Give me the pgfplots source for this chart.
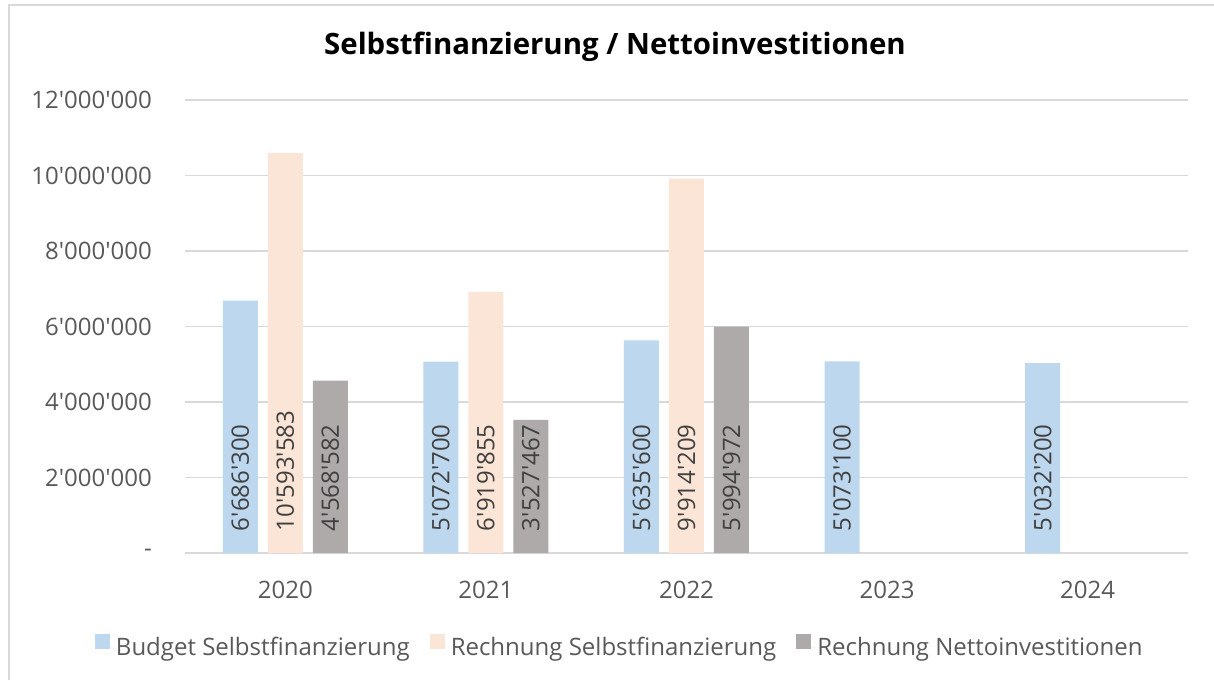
\documentclass[border=0pt]{standalone}
\usepackage{pgfplots}
\pgfplotsset{compat=1.18}
\usepackage{fontspec}
\setmainfont{Open Sans}[Ligatures=TeXOff]
\definecolor{cblue}{HTML}{BDD7EE}
\definecolor{cpeach}{HTML}{FBE5D6}
\definecolor{cgray}{HTML}{AEAAAA}
\definecolor{cgrid}{HTML}{D9D9D9}
\definecolor{ctext}{HTML}{595959}
\definecolor{clabel}{HTML}{404040}
\pgfplotsset{ybar legend/.style={legend image code/.code={\path (0pt,0pt) -- (20pt,0pt);\fill[##1] (0pt,-2pt) rectangle (15pt,13pt);}}}
\newcommand{\tfont}{\fontsize{24}{28}\selectfont}
\begin{document}
\begin{tikzpicture}[x=1pt,y=1pt]
\path[use as bounding box] (0,0) rectangle (1214,680);
\fill[white] (0,0) rectangle (1214,680);
\draw[cgrid, line width=1.5pt] (9,0) -- (9,675) -- (1214,675);
\node[font=\fontsize{29.4}{34}\selectfont\bfseries, anchor=center] at (615,633) {Selbstfinanzierung / Nettoinvestitionen};
\begin{axis}[
  at={(185pt,127pt)}, anchor=south west,
  scale only axis, width=1003pt, height=453pt,
  xmin=-0.5, xmax=4.5, ymin=0, ymax=12000000,
  ybar=10pt, bar width=35pt,
  axis line style={draw=none},
  major tick length=0pt, tick style={draw=none},
  ymajorgrids, major grid style={cgrid, line width=1.5pt},
  xtick={0,1,2,3,4}, xticklabels={2020,2021,2022,2023,2024},
  ytick={0,2000000,4000000,6000000,8000000,10000000,12000000},
  yticklabels={{-\hspace{13pt}},2'000'000,4'000'000,6'000'000,8'000'000,10'000'000,12'000'000},
  scaled y ticks=false,
  tick label style={font=\tfont, text=ctext},
  yticklabel style={anchor=east, inner sep=0pt, xshift=-33pt},
  xticklabel style={anchor=base, inner sep=0pt, yshift=-45pt},
  nodes near coords={\pgfplotspointmeta},
  point meta=explicit symbolic,
  visualization depends on=y \as \rawy,
  every node near coord/.append style={shift={(axis direction cs:0,-\rawy)}, rotate=90, anchor=west, inner xsep=22pt, inner ysep=0pt, outer sep=0pt, font=\tfont, text=clabel},
  legend style={at={(0.433,-0.205)}, anchor=center, draw=none, fill=none, legend columns=-1, font=\tfont, text=ctext, nodes={inner xsep=1pt, inner ysep=0pt}, /tikz/every even column/.append style={column sep=19pt}},
]
\addplot[fill=cblue, draw=none] coordinates {(0,6686300) [6'686'300] (1,5072700) [5'072'700] (2,5635600) [5'635'600] (3,5073100) [5'073'100] (4,5032200) [5'032'200]};
\addplot[fill=cpeach, draw=none] coordinates {(0,10593583) [10'593'583] (1,6919855) [6'919'855] (2,9914209) [9'914'209]};
\addplot[fill=cgray, draw=none] coordinates {(0,4568582) [4'568'582] (1,3527467) [3'527'467] (2,5994972) [5'994'972]};
\legend{Budget Selbstfinanzierung, Rechnung Selbstfinanzierung, Rechnung Nettoinvestitionen}
\end{axis}
\end{tikzpicture}
\end{document}
